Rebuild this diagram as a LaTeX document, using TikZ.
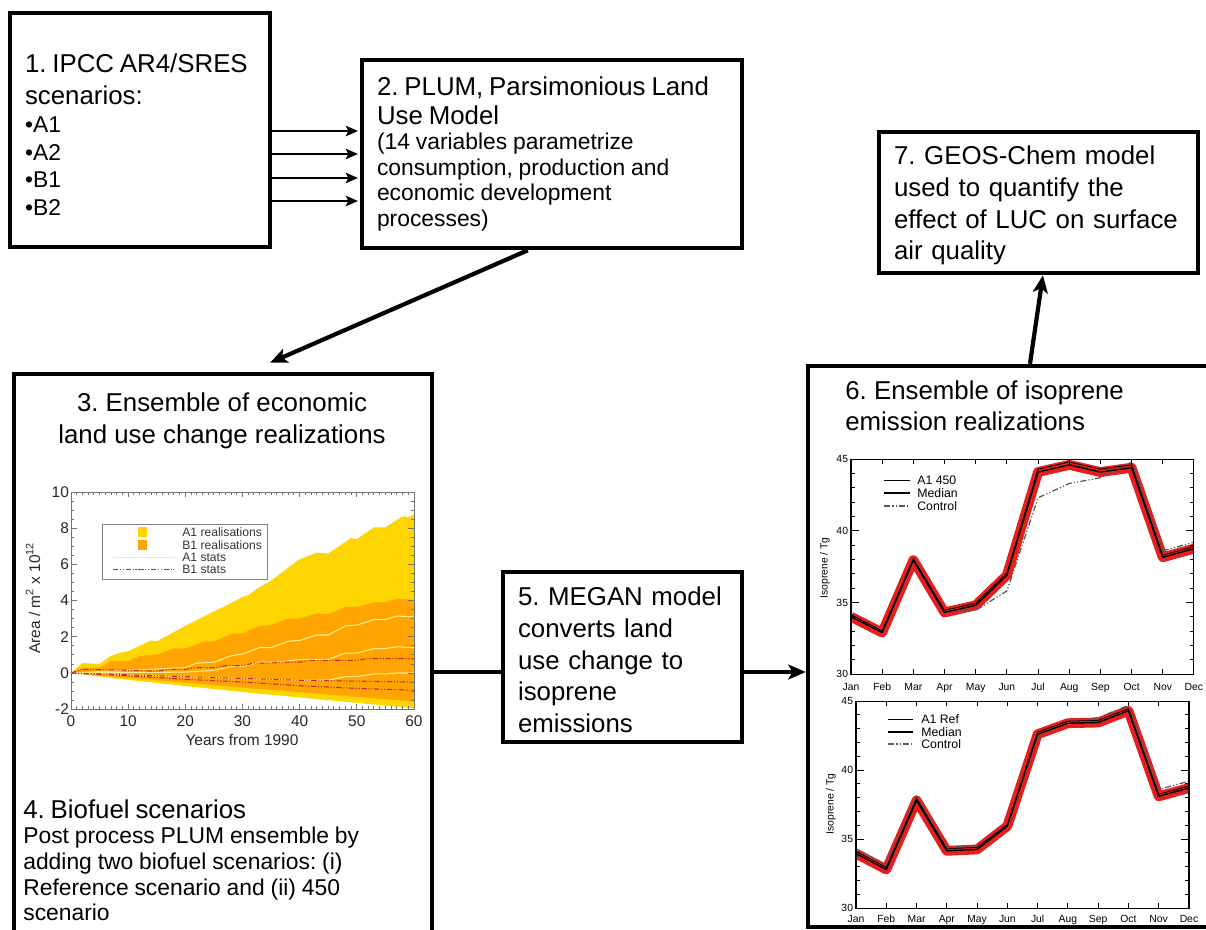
\documentclass[tikz,border=0pt]{standalone}
\usepackage{fontspec}
\setmainfont{Liberation Sans}
\usetikzlibrary{positioning, calc, arrows.meta}
\frenchspacing

\definecolor{aonefill}{HTML}{FDD500}
\definecolor{bonefill}{HTML}{FFA400}
\definecolor{aonestat}{HTML}{FFEE90}
\definecolor{bonestat}{HTML}{C22A2A}
\definecolor{bandred}{HTML}{E41F1C}

\newcommand{\bigtxt}{\fontsize{14.7pt}{18pt}\selectfont}
\newcommand{\smalltxt}{\fontsize{13pt}{14.5pt}\selectfont}

\begin{document}
\begin{tikzpicture}[
x=0.02cm, y=-0.02cm,
boxnode/.style={rectangle, draw=black, line width=2.6pt, align=left, inner xsep=0.3cm, inner ysep=0pt},
panelnode/.style={rectangle, draw=black, line width=2.6pt, inner sep=0pt},
textnode/.style={inner sep=0pt, align=left},
bigto/.style={-{Stealth[length=10pt, width=8.5pt, inset=2.5pt]}, line width=2.4pt},
smallto/.style={-{Stealth[length=7pt, width=6pt, inset=1.5pt]}, line width=1.1pt, shorten >=1pt},
axisbox/.style={draw=black!55, line width=0.5pt},
plotbox/.style={draw=black, line width=0.6pt},
arealabel/.style={inner sep=1pt, text=black!85, font=\fontsize{8.8pt}{10pt}\selectfont},
arealegend/.style={inner sep=0pt, anchor=west, text=black!80, font=\fontsize{6.9pt}{8pt}\selectfont},
isolabel/.style={inner sep=1.5pt, font=\fontsize{5.9pt}{7pt}\selectfont},
isolegend/.style={inner sep=0pt, anchor=west, font=\fontsize{7pt}{8pt}\selectfont},
aonestats/.style={draw=aonestat, line width=0.6pt},
bonestats/.style={draw=bonestat, line width=0.6pt, dash pattern=on 3pt off 1pt on 0.6pt off 1pt on 0.6pt off 1pt},
bandline/.style={draw=bandred, line width=5.6pt, line join=round},
medianline/.style={draw=black, line width=0.75pt, line join=round},
memberline/.style={draw=black, line width=0.45pt, line join=round},
controlline/.style={draw=black!65, line width=0.7pt, dash pattern=on 3.5pt off 1.2pt on 0.7pt off 1.2pt on 0.7pt off 1.2pt},
]
\useasboundingbox (0,0) rectangle (1206,929);
\clip (0,0) rectangle (1206,929);

%nodes
\node[boxnode, minimum width=5.2cm, minimum height=4.68cm, text width=4.6cm] (ipcc) at (140,130) {{\bigtxt\rule{0pt}{15.9pt}1. IPCC AR4/SRES\\scenarios:\par}\vspace{0.6pt}{\smalltxt\baselineskip=15.7pt •A1\\•A2\\•B1\\•B2\par}};
\node[boxnode, minimum width=7.6cm, minimum height=3.76cm, text width=7cm] (plum) at (552,154) {{\bigtxt\baselineskip=16.4pt 2. PLUM, Parsimonious Land\\Use Model\par}{\smalltxt (14 variables parametrize\\consumption, production and\\economic development\\processes)\par}};
\node[panelnode, minimum width=8.36cm, minimum height=11.92cm] (econ) at (223,672) {};
\node[textnode, align=center, font=\bigtxt] (econtitle) at (222,421) {3. Ensemble of economic\\land use change realizations};
\node[textnode, anchor=north west, text width=8cm] (bio) at (23,799) {{\bigtxt 4. Biofuel scenarios\par}{\smalltxt\baselineskip=14.6pt Post process PLUM ensemble by\\adding two biofuel scenarios: (i)\\Reference scenario and (ii) 450\\scenario\par}};
\node[boxnode, minimum width=4.78cm, minimum height=3.4cm, text width=4.18cm, font=\bigtxt] (megan) at (622.5,657) {\rule{0pt}{14pt}5. MEGAN model\\converts land\\use change to\\isoprene\\emissions};
\node[panelnode, minimum width=8.88cm, minimum height=11.22cm] (iso) at (1030,646.5) {};
\node[textnode, anchor=north west, font=\bigtxt] (isotitle) at (845,380) {6. Ensemble of isoprene\\emission realizations};
\node[boxnode, minimum width=6.38cm, minimum height=2.82cm, text width=5.78cm, font=\bigtxt] (geos) at (1038.5,202.5) {\rule{0pt}{14.1pt}7. GEOS-Chem model\\used to quantify the\\effect of LUC on surface\\air quality};

%connections
\foreach \y in {131,154,178,201}
  \draw[smallto] (ipcc.east |- 0,\y) -- (plum.west |- 0,\y);
\draw[bigto] ($(plum.south west)!0.437!(plum.south east)$) -- ($(econ.north)+(47,-9)$);
\draw[line width=2.4pt] (econ.east) -- (megan.west |- econ.east);
\draw[bigto] (megan.east |- econ.east) -- (iso.west |- econ.east);
\draw[bigto] (iso.north) -- ([xshift=2.5pt]geos.south);

%land use change ensemble
\begin{scope}[shift={(71,673)}, x=0.11434cm, y=0.362cm]
\fill[aonefill] (0,0) -- (2,0.55) -- (5,0.5) -- (7,0.95) -- (9,1.15) -- (10,1.2) -- (14,1.8) -- (15,1.75) -- (20,2.6) -- (25,3.4) -- (27,3.7) -- (30,4.2) -- (31,4.3) -- (33,4.75) -- (35,5.1) -- (40,6.3) -- (41,6.4) -- (43,6.65) -- (45,6.6) -- (49,7.45) -- (50,7.4) -- (53,8.05) -- (55,8.05) -- (57,8.45) -- (58,8.65) -- (59,8.62) -- (60,8.75) -- (60,-1.95) -- (50,-1.65) -- (40,-1.35) -- (30,-1.05) -- (20,-0.72) -- (10,-0.38) -- cycle;
\fill[bonefill] (0,0) -- (2,0.3) -- (5,0.3) -- (7,0.65) -- (10,0.65) -- (12,0.95) -- (15,1.0) -- (18,1.35) -- (20,1.35) -- (23,1.7) -- (25,1.75) -- (28,2.15) -- (30,2.2) -- (33,2.6) -- (35,2.65) -- (38,3.0) -- (40,3.0) -- (43,3.3) -- (45,3.25) -- (48,3.65) -- (50,3.65) -- (53,3.9) -- (55,3.9) -- (57,4.1) -- (60,4.05) -- (60,-1.58) -- (30,-0.8) -- cycle;
\draw[aonestats] (0,0) -- (10,0.15) -- (20,0.3) -- (22,0.55) -- (25,0.6) -- (28,0.95) -- (30,1.05) -- (33,1.4) -- (35,1.4) -- (38,1.75) -- (40,1.8) -- (43,2.1) -- (45,2.1) -- (48,2.6) -- (50,2.65) -- (53,2.95) -- (55,2.95) -- (57,3.15) -- (60,3.1);
\draw[aonestats] (0,0) -- (20,0.05) -- (25,0.15) -- (28,0.35) -- (30,0.35) -- (33,0.6) -- (36,0.6) -- (40,0.75) -- (45,0.75) -- (48,1.1) -- (50,1.1) -- (53,1.35) -- (55,1.35) -- (57,1.45) -- (60,1.4);
\draw[aonestats] (0,0) -- (20,-0.2) -- (30,-0.3) -- (40,-0.4) -- (45,-0.4) -- (48,-0.2) -- (50,-0.2) -- (53,-0.05) -- (55,-0.05) -- (57,0) -- (60,0);
\draw[bonestats] (0,0) -- (2,0.2) -- (10,0.15) -- (15,0.1) -- (17,0.2) -- (20,0.2) -- (22,0.3) -- (25,0.3) -- (27,0.4) -- (30,0.4) -- (32,0.55) -- (35,0.55) -- (37,0.6) -- (40,0.6) -- (42,0.7) -- (50,0.7) -- (52,0.8) -- (57,0.8) -- (60,0.78);
\draw[bonestats] (0,0) -- (10,-0.1) -- (20,-0.2) -- (30,-0.3) -- (40,-0.4) -- (50,-0.45) -- (60,-0.5);
\draw[bonestats] (0,0) -- (10,-0.15) -- (20,-0.35) -- (30,-0.5) -- (40,-0.7) -- (50,-0.85) -- (60,-0.95);
\draw[axisbox] (0,-2) rectangle (60,10);
\foreach \t in {1,...,59} {\draw[axisbox] (\t,-2) -- ++(0,0.15); \draw[axisbox] (\t,10) -- ++(0,-0.15);}
\foreach \t in {10,20,...,50} {\draw[axisbox] (\t,-2) -- ++(0,0.3); \draw[axisbox] (\t,10) -- ++(0,-0.3);}
\foreach \v in {-1.5,-1,...,9.5} {\draw[axisbox] (0,\v) -- ++(0.5,0); \draw[axisbox] (60,\v) -- ++(-0.5,0);}
\foreach \v in {0,2,...,8} {\draw[axisbox] (0,\v) -- ++(1,0); \draw[axisbox] (60,\v) -- ++(-1,0);}
\foreach \t in {0,10,...,60} \node[arealabel, below=2.5pt] (xt\t) at (\t,-2) {\t};
\foreach \v [count=\i] in {-2,0,2,4,6,8,10} \node[arealabel, left] (yt\i) at (0,\v) {\v};
\end{scope}
\node[arealabel] (xlab) at (242,740) {Years from 1990};
\node[arealabel, rotate=90] (ylab) at (33,598) {Area / m\textsuperscript{2} x 10\textsuperscript{12}};
\draw[draw=black!50, line width=0.5pt] (102,524) rectangle (267,579);
\fill[aonefill] (138,527) rectangle (147,537);
\fill[bonefill] (138,540) rectangle (147,550);
\draw[aonestats] (113,557.5) -- (175,557.5);
\draw[bonestats] (113,569.5) -- (175,569.5);
\node[arealegend] (lga) at (182,532) {A1 realisations};
\node[arealegend] (lgb) at (182,545) {B1 realisations};
\node[arealegend] (lgc) at (182,557.5) {A1 stats};
\node[arealegend] (lgd) at (182,569.5) {B1 stats};

%isoprene, A1 450
\begin{scope}[shift={(851,1104)}, x=0.6236cm, y=0.28667cm]
\begin{scope}
\clip (0,30) rectangle (11,45);
\draw[bandline] (0,34.0) -- (1,32.9) -- (2,37.95) -- (3,34.3) -- (4,34.8) -- (5,36.9) -- (6,44.1) -- (7,44.6) -- (8,44.1) -- (9,44.4) -- (10,38.15) -- (11,38.75);
\end{scope}
\draw[controlline] (0,34.2) -- (1,33.0) -- (2,38.1) -- (3,34.4) -- (4,34.45) -- (5,35.8) -- (6,42.3) -- (7,43.3) -- (8,43.7) -- (9,44.8) -- (10,38.6) -- (11,39.2);
\draw[memberline] (0,34.15) -- (1,33.0) -- (2,38.05) -- (3,34.45) -- (4,34.95) -- (5,37.05) -- (6,44.3) -- (7,44.8) -- (8,44.3) -- (9,44.6) -- (10,38.3) -- (11,38.9);
\draw[medianline] (0,34.0) -- (1,32.9) -- (2,37.95) -- (3,34.3) -- (4,34.8) -- (5,36.9) -- (6,44.1) -- (7,44.6) -- (8,44.1) -- (9,44.4) -- (10,38.15) -- (11,38.75);
\draw[plotbox] (0,30) rectangle (11,45);
\foreach \v in {31,...,44} {\draw[plotbox] (0,\v) -- ++(0.13,0); \draw[plotbox] (11,\v) -- ++(-0.13,0);}
\foreach \v in {35,40} {\draw[plotbox] (0,\v) -- ++(0.26,0); \draw[plotbox] (11,\v) -- ++(-0.26,0);}
\foreach \m in {1,...,10} {\draw[plotbox] (\m,30) -- ++(0,0.35); \draw[plotbox] (\m,45) -- ++(0,-0.35);}
\foreach \v in {30,35,40,45} \node[isolabel, left] (ya\v) at (0,\v) {\v};
\foreach \m [count=\i from 0] in {Jan,Feb,Mar,Apr,May,Jun,Jul,Aug,Sep,Oct,Nov,Dec}
  \node[isolabel, inner sep=0pt, anchor=base] (ma\i) at (\i,28.88) {\m};
\end{scope}
\node[isolabel, rotate=90] (isoya) at (825,568) {Isoprene / Tg};
\draw[memberline] (884,480) -- (910,480);
\draw[medianline] (884,493) -- (910,493);
\draw[controlline] (884,506) -- (910,506);
\node[isolegend] (lge) at (917,480) {A1 450};
\node[isolegend] (lgf) at (917,493) {Median};
\node[isolegend] (lgg) at (917,506) {Control};

%isoprene, A1 Ref
\begin{scope}[shift={(856,1322)}, x=0.6055cm, y=0.276cm]
\begin{scope}
\clip (0,30) rectangle (11,45);
\draw[bandline] (0,33.95) -- (1,32.8) -- (2,37.8) -- (3,34.15) -- (4,34.25) -- (5,35.95) -- (6,42.6) -- (7,43.4) -- (8,43.45) -- (9,44.3) -- (10,38.1) -- (11,38.7);
\end{scope}
\draw[controlline] (0,34.3) -- (1,33.1) -- (2,38.1) -- (3,34.4) -- (4,34.5) -- (5,36.0) -- (6,42.4) -- (7,43.5) -- (8,43.8) -- (9,44.7) -- (10,38.6) -- (11,39.2);
\draw[memberline] (0,34.1) -- (1,32.95) -- (2,37.95) -- (3,34.3) -- (4,34.4) -- (5,36.05) -- (6,42.75) -- (7,43.55) -- (8,43.6) -- (9,44.45) -- (10,38.25) -- (11,38.85);
\draw[medianline] (0,33.95) -- (1,32.8) -- (2,37.8) -- (3,34.15) -- (4,34.25) -- (5,35.95) -- (6,42.6) -- (7,43.4) -- (8,43.45) -- (9,44.3) -- (10,38.1) -- (11,38.7);
\draw[plotbox] (0,30) rectangle (11,45);
\foreach \v in {31,...,44} {\draw[plotbox] (0,\v) -- ++(0.13,0); \draw[plotbox] (11,\v) -- ++(-0.13,0);}
\foreach \v in {35,40} {\draw[plotbox] (0,\v) -- ++(0.26,0); \draw[plotbox] (11,\v) -- ++(-0.26,0);}
\foreach \m in {1,...,10} {\draw[plotbox] (\m,30) -- ++(0,0.35); \draw[plotbox] (\m,45) -- ++(0,-0.35);}
\foreach \v in {30,35,40,45} \node[isolabel, left] (yb\v) at (0,\v) {\v};
\foreach \m [count=\i from 0] in {Jan,Feb,Mar,Apr,May,Jun,Jul,Aug,Sep,Oct,Nov,Dec}
  \node[isolabel, inner sep=0pt, anchor=base] (mb\i) at (\i,28.95) {\m};
\end{scope}
\node[isolabel, rotate=90] (isoyb) at (831,804) {Isoprene / Tg};
\draw[memberline] (888,719) -- (913,719);
\draw[medianline] (888,732) -- (913,732);
\draw[controlline] (888,744) -- (913,744);
\node[isolegend] (lgh) at (921,719) {A1 Ref};
\node[isolegend] (lgi) at (921,732) {Median};
\node[isolegend] (lgj) at (921,744) {Control};
\end{tikzpicture}
\end{document}
